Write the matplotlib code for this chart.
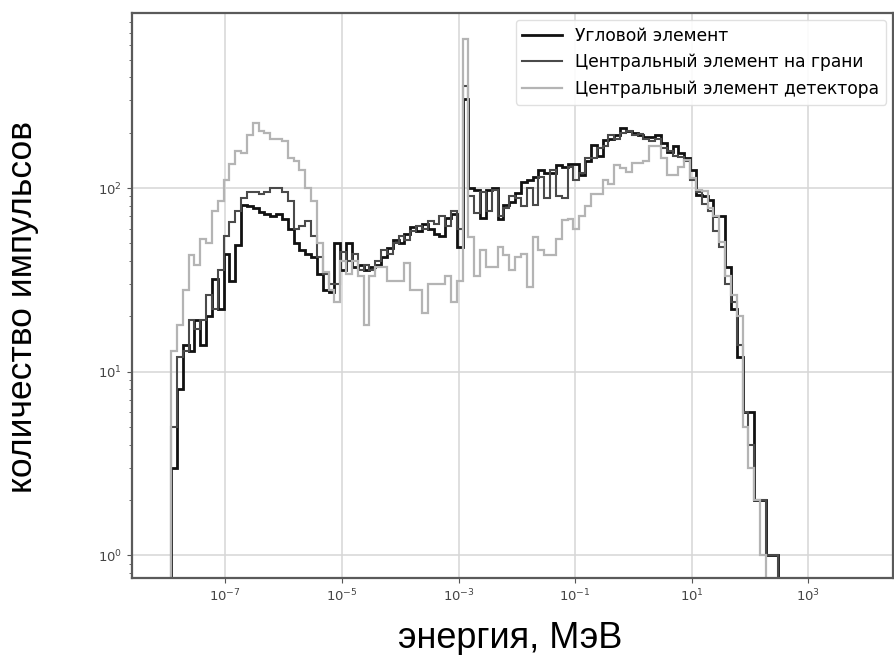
import numpy as np
import matplotlib
matplotlib.use("Agg")
import matplotlib.pyplot as plt
from matplotlib.ticker import NullLocator

# bins: equal width in log10(E), E in MeV
first_edge_log = -7.93
bin_width_log = 0.1

# counts per bin
corner = [
    3, 8, 14, 13, 19, 14, 20, 32, 22, 44,
    31, 49, 81, 80, 78, 74, 72, 70, 72, 68,
    60, 50, 46, 44, 42, 34, 28, 27, 50, 36,
    50, 37, 38, 36, 37, 38, 42, 47, 52, 50,
    56, 61, 58, 64, 60, 56, 55, 69, 72, 48,
    307, 100, 98, 69, 97, 100, 68, 81, 84, 94,
    108, 110, 115, 125, 120, 120, 133, 130, 136, 136,
    118, 140, 171, 150, 182, 186, 194, 211, 205, 200,
    195, 190, 190, 195, 176, 158, 169, 155, 145, 126,
    92, 90, 86, 70, 70, 37, 22, 12, 6, 6,
    2, 2, 1, 1,
]
face_center = [
    5, 12, 13, 19, 17, 19, 26, 22, 36, 55,
    65, 75, 88, 95, 95, 93, 95, 100, 100, 95,
    85, 60, 62, 66, 55, 42, 34, 30, 30, 45,
    40, 44, 36, 38, 36, 40, 46, 44, 50, 55,
    52, 58, 62, 60, 66, 64, 70, 62, 75, 60,
    360, 90, 73, 95, 75, 98, 70, 78, 90, 88,
    80, 100, 81, 115, 88, 125, 90, 88, 130, 110,
    120, 145, 145, 165, 170, 195, 185, 200, 205, 195,
    198, 185, 180, 185, 165, 160, 150, 148, 140, 110,
    95, 82, 75, 58, 48, 30, 24, 14, 6, 4,
    2, 2, 1, 1,
]
detector_center = [
    13, 18, 28, 43, 38, 53, 50, 75, 85, 110,
    135, 160, 155, 195, 225, 205, 200, 185, 185, 180,
    145, 140, 125, 100, 85, 50, 35, 28, 24, 40,
    34, 40, 33, 18, 33, 37, 37, 31, 31, 31,
    39, 28, 28, 21, 30, 30, 30, 33, 24, 31,
    650, 54, 33, 46, 37, 37, 48, 43, 36, 42,
    44, 29, 54, 46, 43, 43, 53, 67, 68, 60,
    70, 80, 93, 93, 110, 105, 134, 128, 123, 137,
    137, 140, 169, 169, 146, 118, 118, 131, 143, 113,
    98, 96, 78, 70, 51, 33, 26, 20, 5, 3,
    2, 1, 0, 0,
]

labels = [
    "Угловой элемент",
    "Центральный элемент на грани",
    "Центральный элемент детектора",
]

edges = 10 ** (first_edge_log + bin_width_log * np.arange(len(corner) + 1))

fig = plt.figure(figsize=(8.95, 6.55), dpi=100)
ax = fig.add_axes([0.1475, 0.1176, 0.8503, 0.8626])
ax.set_xscale("log")
ax.set_yscale("log")

ax.stairs(corner, edges, baseline=0, color="#111111", lw=2.0, label=labels[0])
ax.stairs(face_center, edges, baseline=0, color="#4a4a4a", lw=1.5, label=labels[1])
ax.stairs(detector_center, edges, baseline=0, color="#b4b4b4", lw=1.6, label=labels[2])

ax.set_xlim(10 ** -8.6, 10 ** 4.45)
ax.set_ylim(0.753, 898)
ax.set_xticks(10.0 ** np.arange(-7, 4, 2))
ax.xaxis.set_minor_locator(NullLocator())

ax.grid(True, which="major", color="#d6d6d6", lw=1.1)
ax.set_axisbelow(True)
for s in ax.spines.values():
    s.set_color("#5a5a5a")
    s.set_linewidth(1.6)
ax.tick_params(which="both", colors="#555555", labelcolor="#444444", labelsize=9.5)

ax.set_xlabel("энергия, МэВ", fontsize=26, family="Liberation Sans")
ax.xaxis.set_label_coords(0.497, -0.077)
ax.set_ylabel("количество импульсов", fontsize=25.5, family="Liberation Sans")
ax.yaxis.set_label_coords(-0.122, 0.48)

leg = ax.legend(loc="upper right", fontsize=12.3, handlelength=2.3,
                framealpha=0.9, edgecolor="#dddddd", borderaxespad=0.4)

fig.savefig("out.png", dpi=100)
